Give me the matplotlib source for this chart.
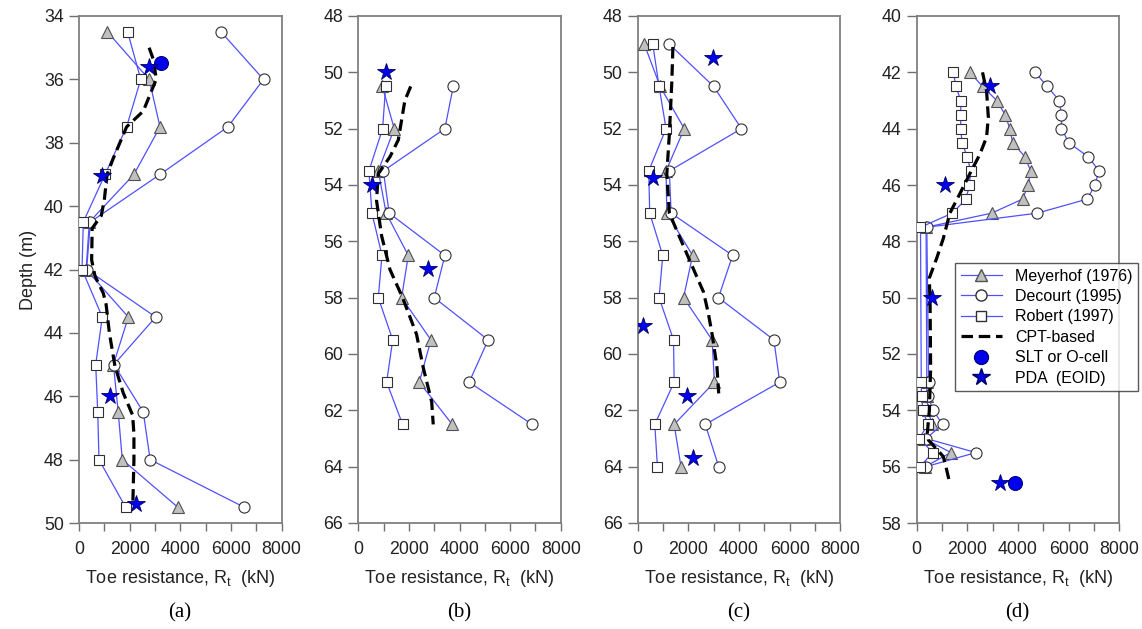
import matplotlib
matplotlib.use("Agg")
import matplotlib.pyplot as plt
from matplotlib.lines import Line2D

plt.rcParams['font.family'] = ['Liberation Sans', 'DejaVu Sans']

# ---- panel (a)
depth_a = [34.5, 36, 37.5, 39, 40.5, 42, 43.5, 45, 46.5, 48, 49.5]
mey_a = [1120, 2770, 3200, 2170, 410, 280, 1950, 1360, 1550, 1710, 3900]
dec_a = [5610, 7290, 5880, 3200, 450, 300, 3030, 1380, 2540, 2810, 6520]
rob_a = [1920, 2440, 1880, 1030, 170, 120, 920, 660, 740, 790, 1840]
cpt_a_d = [35.0, 35.4, 36.0, 37.0, 37.5, 38.5, 39.0, 39.8, 40.3, 40.7, 41.7, 42.2,
           42.75, 43.1, 44.0, 45.05, 45.9, 46.6, 47.2, 48.0, 49.3]
cpt_a_v = [2770, 2950, 3050, 2540, 1880, 1350, 1110, 1000, 880, 520, 500, 630,
           960, 1070, 1200, 1420, 1750, 2120, 2170, 2170, 2130]
pda_a_v = [2770, 900, 1230, 2250]
pda_a_d = [35.6, 39.06, 46.0, 49.4]
slt_a_v = [3230]
slt_a_d = [35.47]

# ---- panel (b)
depth_b = [50.5, 52, 53.5, 55, 56.5, 58, 59.5, 61, 62.5]
mey_b = [950, 1420, 790, 1100, 1975, 1710, 2870, 2410, 3710]
dec_b = [3750, 3420, 990, 1220, 3420, 3000, 5130, 4380, 6870]
rob_b = [1080, 960, 420, 540, 935, 790, 1360, 1120, 1750]
cpt_b_d = [50.5, 51.0, 52.4, 53.0, 53.6, 54.55, 55.8, 57.0, 58.0, 59.3, 60.5, 61.7, 62.5]
cpt_b_v = [2070, 1840, 1580, 1250, 790, 720, 920, 1250, 1750, 2300, 2570, 2900, 2960]
pda_b_v = [1090, 555, 2760]
pda_b_d = [50.0, 54.0, 57.0]

# ---- panel (c)
depth_c = [49, 50.5, 52, 53.5, 55, 56.5, 58, 59.5, 61, 62.5, 64]
mey_c = [260, 885, 1840, 1120, 1150, 2170, 1810, 2940, 3030, 1440, 1710]
dec_c = [1250, 3000, 4100, 1250, 1320, 3750, 3190, 5380, 5610, 2670, 3200]
rob_c = [595, 845, 1120, 435, 475, 990, 845, 1415, 1440, 675, 780]
cpt_c_d = [49.1, 50.3, 52.2, 53.6, 55.0, 55.9, 57.0, 57.8, 58.6, 59.3, 60.45, 61.4]
cpt_c_v = [1390, 1350, 1250, 1150, 1250, 1680, 2210, 2600, 2800, 2940, 3130, 3200]
pda_c_v = [2975, 620, 225, 1940, 2180]
pda_c_d = [49.5, 53.74, 59.0, 61.5, 63.7]

# ---- panel (d)
depth_d = [42, 42.5, 43, 43.5, 44, 44.5, 45, 45.5, 46, 46.5, 47, 47.5,
           53, 53.5, 54, 54.5, 55, 55.5, 56]
mey_d = [2100, 2600, 3160, 3490, 3680, 3790, 4280, 4500, 4410, 4180, 2960, 370,
         400, 400, 450, 600, 300, 1350, 330]
dec_d = [4670, 5160, 5630, 5720, 5720, 6010, 6780, 7200, 7040, 6740, 4760, 400,
         470, 450, 650, 1020, 370, 2340, 360]
rob_d = [1450, 1550, 1740, 1740, 1740, 1790, 2000, 2130, 2080, 1950, 1410, 150,
         180, 190, 250, 430, 110, 630, 130]
cpt_d_d = [42.0, 42.66, 43.6, 44.3, 44.9, 45.6, 46.3, 47.0, 47.9, 48.6, 49.3, 50.3,
           52.5, 54.0, 54.8, 55.05, 55.64, 56.1, 56.6]
cpt_d_v = [2600, 2760, 2830, 2760, 2500, 2100, 1710, 1310, 1050, 790, 500, 530,
           550, 500, 420, 460, 1050, 1180, 1310]
pda_d_v = [2890, 1120, 590, 3290]
pda_d_d = [42.5, 46.0, 50.0, 56.57]
slt_d_v = [3880]
slt_d_d = [56.57]

ylims = [(34, 50), (48, 66), (48, 66), (40, 58)]
panel_names = ['(a)', '(b)', '(c)', '(d)']
lefts_px = [79, 358.3, 637.7, 916.7]

blue = '#5050ff'
W, H = 1142, 629
fig = plt.figure(figsize=(W / 100, H / 100), dpi=100)

panels = [
    (depth_a, mey_a, dec_a, rob_a, cpt_a_d, cpt_a_v, pda_a_v, pda_a_d, slt_a_v, slt_a_d),
    (depth_b, mey_b, dec_b, rob_b, cpt_b_d, cpt_b_v, pda_b_v, pda_b_d, [], []),
    (depth_c, mey_c, dec_c, rob_c, cpt_c_d, cpt_c_v, pda_c_v, pda_c_d, [], []),
    (depth_d, mey_d, dec_d, rob_d, cpt_d_d, cpt_d_v, pda_d_v, pda_d_d, slt_d_v, slt_d_d),
]

for i, (dep, mey, dec, rob, cd, cv, pv, pd, sv, sd) in enumerate(panels):
    ax = fig.add_axes([lefts_px[i] / W, (H - 523) / H, 202.5 / W, 507 / H])
    ax.plot(mey, dep, color=blue, lw=0.9, marker='^', ms=8.5,
            mfc='#c0c0c0', mec='#505050', mew=0.8, zorder=3)
    ax.plot(dec, dep, color=blue, lw=0.9, marker='o', ms=8,
            mfc='white', mec='#303030', mew=0.8, zorder=3)
    ax.plot(rob, dep, color=blue, lw=0.9, marker='s', ms=6.5,
            mfc='white', mec='#303030', mew=0.8, zorder=3)
    ax.plot(cv, cd, color='black', lw=2.3, dashes=(3.6, 1.8), zorder=4)
    if sv:
        ax.plot(sv, sd, ls='none', marker='o', ms=10, mfc='#0000ee',
                mec='#000080', mew=0.8, zorder=5)
    ax.plot(pv, pd, ls='none', marker='*', ms=13, mfc='#0000ee',
            mec='#000060', mew=0.6, zorder=5)

    ax.set_xlim(0, 8000)
    ax.set_ylim(ylims[i][1], ylims[i][0])
    ax.set_xticks([0, 2000, 4000, 6000, 8000])
    ax.set_xticks([1000, 3000, 5000, 7000], minor=True)
    ax.set_yticks(range(ylims[i][0], ylims[i][1] + 1, 2))
    ax.tick_params(axis='both', which='both', direction='out', color='#707070',
                   width=1, labelsize=12.8, labelcolor='#222222')
    ax.tick_params(axis='x', which='both', length=6, pad=7)
    ax.tick_params(axis='y', length=7, pad=4)
    for s in ax.spines.values():
        s.set_color('#808080')
        s.set_linewidth(1.3)
    ax.set_xlabel('Toe resistance, R$_\\mathregular{t}$  (kN)', fontsize=13,
                  color='#222222', labelpad=7)
    if i == 0:
        ax.set_ylabel('Depth (m)', fontsize=13, color='#222222', labelpad=5)
    fig.text((lefts_px[i] + 101) / W, 1 - 613 / H, panel_names[i],
             family=['Liberation Serif', 'DejaVu Serif'], fontsize=15,
             ha='center', va='center')

handles = [
    Line2D([], [], color=blue, lw=0.9, marker='^', ms=8.5, mfc='#c0c0c0', mec='#505050'),
    Line2D([], [], color=blue, lw=0.9, marker='o', ms=8, mfc='white', mec='#303030'),
    Line2D([], [], color=blue, lw=0.9, marker='s', ms=6.5, mfc='white', mec='#303030'),
    Line2D([], [], color='black', lw=2.3, dashes=(3.6, 1.8)),
    Line2D([], [], ls='none', marker='o', ms=10, mfc='#0000ee', mec='#000080'),
    Line2D([], [], ls='none', marker='*', ms=13, mfc='#0000ee', mec='#000060'),
]
labels = ['Meyerhof (1976)', 'Decourt (1995)', 'Robert (1997)', 'CPT-based',
          'SLT or O-cell', 'PDA  (EOID)']
leg = fig.legend(handles, labels, loc='upper left',
                 bbox_to_anchor=(955 / W, 1 - 263 / H), fontsize=11.5,
                 frameon=True, fancybox=False, borderpad=0.35, labelspacing=0.34,
                 handlelength=2.6, handletextpad=0.8, borderaxespad=0)
leg.get_frame().set_edgecolor('#303030')
leg.get_frame().set_linewidth(1)
leg.set_zorder(10)

fig.savefig('out.png', dpi=100)
